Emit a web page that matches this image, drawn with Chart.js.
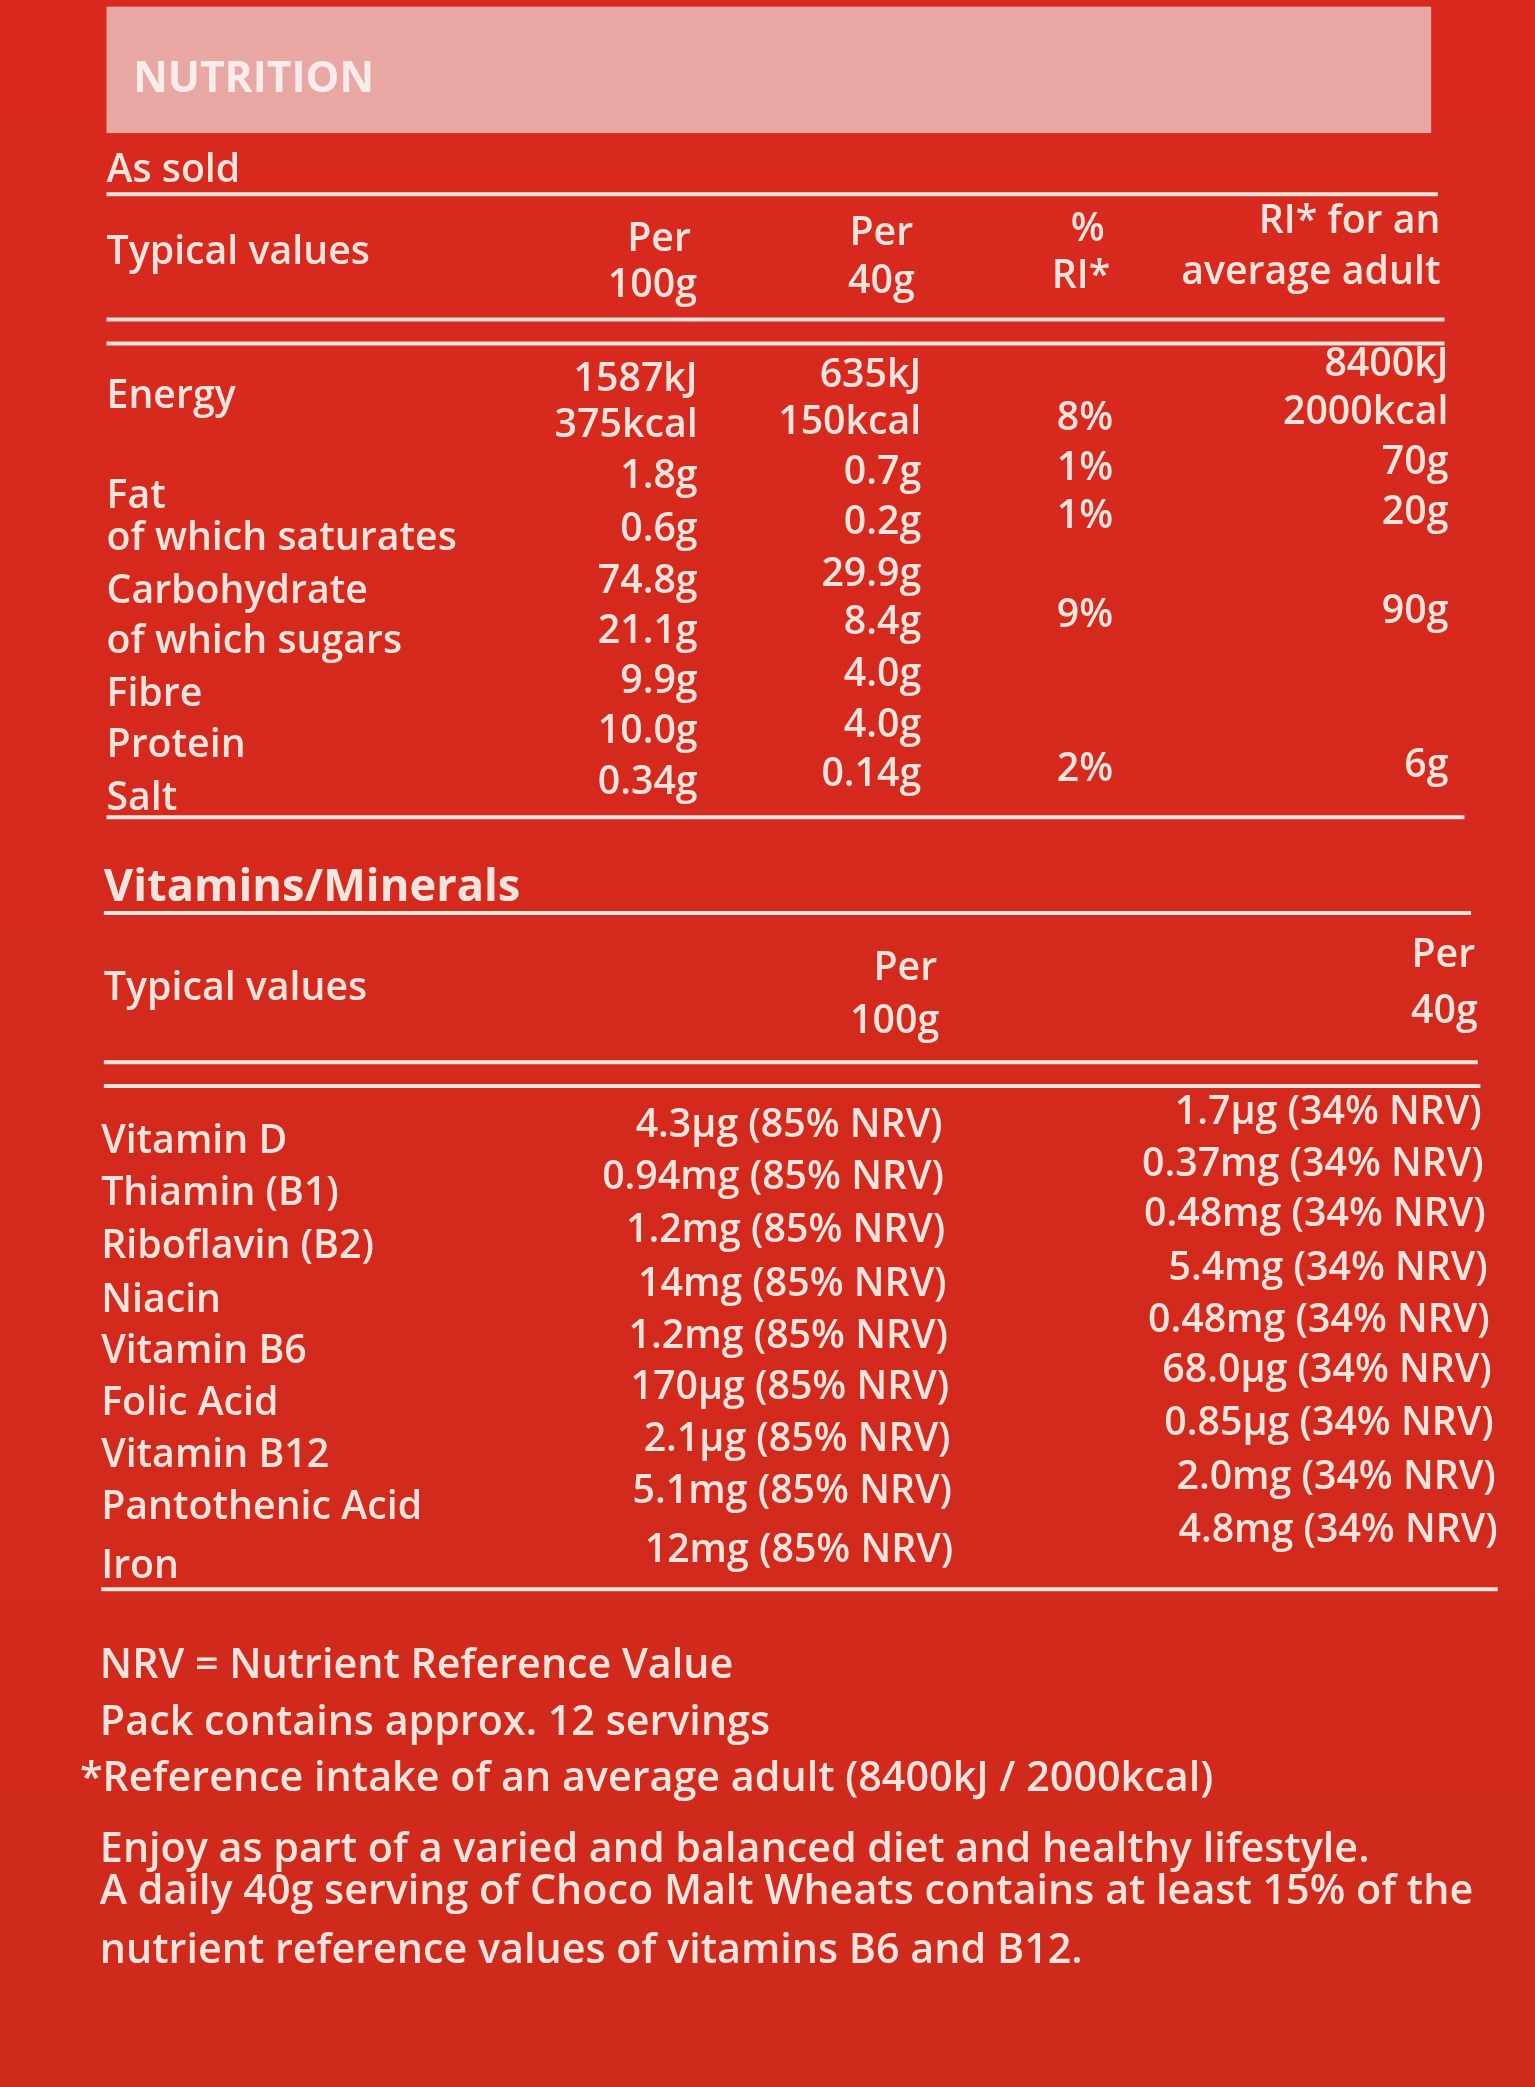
<!DOCTYPE html>
<html><head><meta charset="utf-8">
<script src="https://cdn.jsdelivr.net/npm/chart.js@4.4.1/dist/chart.umd.min.js"></script>
<style>html,body{margin:0;padding:0;background:#c9231b;}canvas{display:block}</style>
</head><body>
<canvas id="c" width="1535" height="2087"></canvas>
<script>
// ---- data ----
const nutrients = ["Energy","Fat","of which saturates","Carbohydrate","of which sugars","Fibre","Protein","Salt"];
const per100g = [["1587kJ","375kcal"],["1.8g"],["0.6g"],["74.8g"],["21.1g"],["9.9g"],["10.0g"],["0.34g"]];
const per40g = [["635kJ","150kcal"],["0.7g"],["0.2g"],["29.9g"],["8.4g"],["4.0g"],["4.0g"],["0.14g"]];
const pctRI = ["8%","1%","1%","","9%","","","2%"];
const riAdult = [["8400kJ","2000kcal"],["70g"],["20g"],[""],["90g"],[""],[""],["6g"]];
const vitamins = ["Vitamin D","Thiamin (B1)","Riboflavin (B2)","Niacin","Vitamin B6","Folic Acid","Vitamin B12","Pantothenic Acid","Iron"];
const vit100g = ["4.3µg (85% NRV)","0.94mg (85% NRV)","1.2mg (85% NRV)","14mg (85% NRV)","1.2mg (85% NRV)","170µg (85% NRV)","2.1µg (85% NRV)","5.1mg (85% NRV)","12mg (85% NRV)"];
const vit40g = ["1.7µg (34% NRV)","0.37mg (34% NRV)","0.48mg (34% NRV)","5.4mg (34% NRV)","0.48mg (34% NRV)","68.0µg (34% NRV)","0.85µg (34% NRV)","2.0mg (34% NRV)","4.8mg (34% NRV)"];
const footer = ["NRV = Nutrient Reference Value","Pack contains approx. 12 servings","*Reference intake of an average adult (8400kJ / 2000kcal)",
 "Enjoy as part of a varied and balanced diet and healthy lifestyle.","A daily 40g serving of Choco Malt Wheats contains at least 15% of the","nutrient reference values of vitamins B6 and B12."];

// layout (reference space 1153 x 1568)
const nutLabelY=[298,373,405,445,482,522,560,600];
const n100Y=[[285,320],[358],[398],[437],[475],[512],[550],[588]];
const n40Y=[[282,318],[355],[393],[432],[468],[507],[545],[582]];
const pctY=[315,352,388,0,463,0,0,578];
const riY=[[274,310],[348],[385],[0],[460],[0],[0],[575]];
const vitY=[858,897,937,977,1016,1055,1094,1133,1177];
const vit40Y=[836,875,913,953,992,1030,1070,1110,1150];
const footY=[1252,1295,1337,1390,1422,1466];
const footX=[75,75,60,75,75,75];

const TXT='#f4e4de';
const FONT='"Open Sans", Lato, sans-serif';
const plugin={id:'label',
 beforeDraw(ch){const c=ch.ctx;const g=c.createLinearGradient(0,0,0,ch.height);g.addColorStop(0,'#d9291e');g.addColorStop(1,'#cf2a1c');c.fillStyle=g;c.fillRect(0,0,ch.width,ch.height);},
 afterDraw(ch){
  const c=ch.ctx,X=v=>ch.scales.x.getPixelForValue(v),Y=v=>ch.scales.y.getPixelForValue(v),k=ch.width/1153;
  const t=(s,x,y,al='left',sz=29.5,w='600')=>{c.font=w+' '+(sz*k)+'px '+FONT;c.textAlign=al;c.textBaseline='middle';c.fillStyle=TXT;c.fillText(s,X(x),Y(y));};
  const line=(x1,x2,y,lw=3)=>{c.strokeStyle=TXT;c.lineWidth=lw*k;c.beginPath();c.moveTo(X(x1),Y(y));c.lineTo(X(x2),Y(y));c.stroke();};
  c.fillStyle='#e8a7a3';c.fillRect(X(80),Y(5),X(1075)-X(80),Y(100)-Y(5));
  c.font='700 '+(32*k)+'px '+FONT;c.fillStyle='#f7eceb';c.textAlign='left';c.textBaseline='middle';c.fillText('NUTRITION',X(100),Y(60));
  t('As sold',80,128);line(80,1080,146);
  t('Typical values',80,190);
  t('Per',495,180,'center');t('100g',490,215,'center');
  t('Per',662,176,'center');t('40g',662,212,'center');
  t('%',817,173,'center');t('RI*',812,208,'center');
  t('RI* for an',1082,167,'right');t('average adult',1082,205,'right');
  line(80,1085,240);line(80,1085,258);
  nutrients.forEach((n,i)=>{t(n,80,nutLabelY[i]);
   per100g[i].forEach((v,j)=>t(v,524,n100Y[i][j],'right'));
   per40g[i].forEach((v,j)=>t(v,692,n40Y[i][j],'right'));
   if(pctRI[i])t(pctRI[i],815,pctY[i],'center');
   riAdult[i].forEach((v,j)=>{if(v)t(v,1088,riY[i][j],'right');});});
  line(80,1100,614);
  t('Vitamins/Minerals',78,667,'left',34,'700');
  line(78,1105,686);
  t('Typical values',78,743);t('Per',680,728,'center');t('100g',672,768,'center');
  t('Per',1108,718,'right');t('40g',1110,760,'right');
  line(78,1110,798);line(78,1112,816);
  vitamins.forEach((n,i)=>{t(n,76,vitY[i]);t(vit100g[i],708+i*1,vitY[i]-12,'right');t(vit40g[i],1113+i*1.5,vit40Y[i],'right');});
  line(76,1125,1194);
  footer.forEach((s,i)=>t(s,footX[i],footY[i],'left',31));
 }};
new Chart(document.getElementById('c'),{type:'scatter',data:{datasets:[{data:[],pointRadius:0}]},
 options:{responsive:false,animation:false,devicePixelRatio:1,layout:{padding:0},
  plugins:{legend:{display:false},tooltip:{enabled:false}},
  scales:{x:{type:'linear',min:0,max:1153,display:false},y:{type:'linear',min:0,max:1568,reverse:true,display:false}}},
 plugins:[plugin]});
</script></body></html>
